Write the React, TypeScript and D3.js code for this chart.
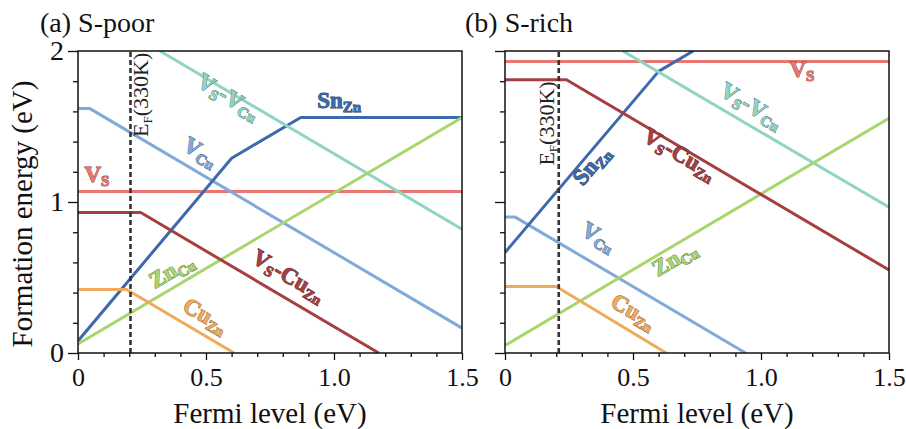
import React, { useEffect, useRef } from "react";
import * as d3 from "d3";

// axis ticks
const xTicks = [0, 0.5, 1.0, 1.5];
const xTickLabels = ["0", "0.5", "1.0", "1.5"];
const xMinor = [0.1, 0.2, 0.3, 0.4, 0.6, 0.7, 0.8, 0.9, 1.1, 1.2, 1.3, 1.4];
const yTicks = [0, 1, 2];
const yTickLabels = ["0", "1", "2"];
const yMinor = [0.2, 0.4, 0.6, 0.8, 1.2, 1.4, 1.6, 1.8];

const panelTitles = ["(a) S-poor", "(b) S-rich"];
const fermiLevels = [0.205, 0.21];

// defect names: V_S, V_Cu, Sn_Zn, V_S-V_Cu, Zn_Cu, V_S-Cu_Zn, Cu_Zn
const seriesColors = ["#ec7772", "#80aada", "#3d69ad", "#8fd5c2", "#a8d66c", "#a63f42", "#efab5a"];

// S-poor: [fermi level, formation energy] kink points
const poorVS = [[0, 1.07], [1.5, 1.07]];
const poorVCu = [[0, 1.62], [0.045, 1.62], [1.5, 0.165]];
const poorSnZn = [[0, 0.08], [0.6, 1.29], [0.87, 1.56], [1.5, 1.56]];
const poorVSVCu = [[0.32, 2.0], [1.5, 0.82]];
const poorZnCu = [[0, 0.06], [1.5, 1.56]];
const poorVSCuZn = [[0, 0.93], [0.245, 0.93], [1.175, 0]];
const poorCuZn = [[0, 0.42], [0.19, 0.42], [0.61, 0]];

// S-rich
const richVS = [[0, 1.93], [1.5, 1.93]];
const richVCu = [[0, 0.9], [0.04, 0.9], [0.94, 0]];
const richSnZn = [[0, 0.665], [0.6, 1.865], [0.735, 2.0]];
const richVSVCu = [[0.46, 2.0], [1.5, 0.965]];
const richZnCu = [[0, 0.05], [1.5, 1.555]];
const richVSCuZn = [[0, 1.81], [0.24, 1.81], [1.5, 0.55]];
const richCuZn = [[0, 0.44], [0.2, 0.44], [0.63, 0]];

// label text pieces: [text, subscript?]
const labelParts = [
  [["V", 0], ["S", 1]],
  [["V", 0], ["Cu", 1]],
  [["Sn", 0], ["Zn", 1]],
  [["V", 0], ["S", 1], ["-", 0], ["V", 0], ["Cu", 1]],
  [["Zn", 0], ["Cu", 1]],
  [["V", 0], ["S", 1], ["-Cu", 0], ["Zn", 1]],
  [["Cu", 0], ["Zn", 1]],
];

// label anchor [x, y, slope of text direction] in data units
const poorLabelPos = [[0.074, 1.13, 0], [0.465, 1.29, -1], [1.02, 1.62, 0], [0.574, 1.656, -1], [0.379, 0.503, 1], [0.809, 0.47, -1], [0.484, 0.205, -1]];
const richLabelPos = [[1.16, 1.83, 0], [0.352, 0.728, -1], [0.359, 1.212, 2], [0.949, 1.596, -1], [0.676, 0.583, 1], [0.668, 1.275, -1], [0.488, 0.232, -1]];

export default function App() {
  const ref = useRef<SVGSVGElement>(null);

  useEffect(() => {
    draw();
  }, []);

  const draw = () => {
    const svg = d3.select(ref.current);
    svg.selectAll("*").remove();

    const serif = "'Liberation Serif', 'Times New Roman', serif";
    const top = 51;
    const bottom = 353;
    const plotW = 384;

    const panels = [
      { left: 78, series: [poorVS, poorVCu, poorSnZn, poorVSVCu, poorZnCu, poorVSCuZn, poorCuZn], labels: poorLabelPos, efLabelX: 18, efLabelY: 1.71, yLabels: true, titleX: 40 },
      { left: 505, series: [richVS, richVCu, richSnZn, richVSVCu, richZnCu, richVSCuZn, richCuZn], labels: richLabelPos, efLabelX: -5, efLabelY: 1.52, yLabels: false, titleX: 465 },
    ];

    const yScale = d3.scaleLinear().domain([0, 2]).range([bottom, top]);

    panels.forEach((p, pi) => {
      const xScale = d3.scaleLinear().domain([0, 1.5]).range([p.left, p.left + plotW]);
      const g = svg.append("g");

      const clipId = "clip" + pi;
      g.append("clipPath")
        .attr("id", clipId)
        .append("rect")
        .attr("x", p.left)
        .attr("y", top)
        .attr("width", plotW)
        .attr("height", bottom - top);

      // axes
      g.append("g")
        .attr("transform", `translate(0, ${bottom})`)
        .call(d3.axisBottom(xScale).tickValues(xMinor).tickSize(4).tickFormat(() => ""))
        .call((a) => a.select(".domain").remove());
      g.append("g")
        .attr("transform", `translate(0, ${bottom})`)
        .call(
          d3.axisBottom(xScale)
            .tickValues(xTicks)
            .tickSize(7)
            .tickPadding(8)
            .tickFormat((d, i) => xTickLabels[i])
        )
        .call((a) => a.select(".domain").remove())
        .selectAll("text")
        .attr("font-family", serif)
        .attr("font-size", 26)
        .attr("fill", "#111");

      g.append("g")
        .attr("transform", `translate(${p.left}, 0)`)
        .call(d3.axisLeft(yScale).tickValues(yMinor).tickSize(5).tickFormat(() => ""))
        .call((a) => a.select(".domain").remove());
      g.append("g")
        .attr("transform", `translate(${p.left}, 0)`)
        .call(
          d3.axisLeft(yScale)
            .tickValues(yTicks)
            .tickSize(10)
            .tickPadding(4)
            .tickFormat((d, i) => (p.yLabels ? yTickLabels[i] : ""))
        )
        .call((a) => a.select(".domain").remove())
        .selectAll("text")
        .attr("font-family", serif)
        .attr("font-size", 28)
        .attr("fill", "#111");

      g.selectAll(".tick line").attr("stroke", "#111").attr("stroke-width", 1.3);

      // lines
      const line = d3
        .line<number[]>()
        .x((d) => xScale(d[0]))
        .y((d) => yScale(d[1]));

      const lines = g.append("g").attr("clip-path", `url(#${clipId})`);
      p.series.forEach((s, i) => {
        lines
          .append("path")
          .attr("d", line(s))
          .attr("fill", "none")
          .attr("stroke", seriesColors[i])
          .attr("stroke-width", 3)
          .attr("stroke-linejoin", "round");
      });

      // Fermi level at 330 K
      const ef = fermiLevels[pi];
      g.append("line")
        .attr("x1", xScale(ef))
        .attr("x2", xScale(ef))
        .attr("y1", yScale(0))
        .attr("y2", yScale(2))
        .attr("stroke", "#333")
        .attr("stroke-width", 2.6)
        .attr("stroke-dasharray", "5,3");

      const ex = xScale(ef) + p.efLabelX;
      const ey = yScale(p.efLabelY);
      const efText = g
        .append("text")
        .attr("x", ex)
        .attr("y", ey)
        .attr("transform", `rotate(-90, ${ex}, ${ey})`)
        .attr("text-anchor", "middle")
        .attr("font-family", serif)
        .attr("font-size", 22)
        .attr("fill", "#222");
      efText.append("tspan").text("E");
      efText.append("tspan").attr("font-size", 13).attr("dy", 4).text("F");
      efText.append("tspan").attr("dy", -4).text("(330K)");

      // defect labels
      const kx = xScale(1) - xScale(0);
      const ky = yScale(0) - yScale(1);
      p.labels.forEach((lp, i) => {
        const lx = xScale(lp[0]);
        const ly = yScale(lp[1]);
        const angle = (-Math.atan((lp[2] * ky) / kx) * 180) / Math.PI;
        const col = d3.color(seriesColors[i]);
        const t = g
          .append("text")
          .attr("x", lx)
          .attr("y", ly)
          .attr("dy", "0.3em")
          .attr("transform", `rotate(${angle}, ${lx}, ${ly})`)
          .attr("text-anchor", "middle")
          .attr("font-family", serif)
          .attr("font-weight", "bold")
          .attr("font-size", 23)
          .attr("fill", seriesColors[i])
          .attr("stroke", col ? col.darker(1.6).toString() : "#333")
          .attr("stroke-width", 0.9)
          .attr("paint-order", "stroke");
        let shifted = false;
        labelParts[i].forEach((part) => {
          const ts = t.append("tspan").text(part[0] as string);
          if (part[1]) {
            ts.attr("font-size", 15).attr("dy", shifted ? 0 : 4);
            shifted = true;
          } else {
            ts.attr("dy", shifted ? -4 : 0);
            shifted = false;
          }
        });
      });

      // frame
      g.append("rect")
        .attr("x", p.left)
        .attr("y", top)
        .attr("width", plotW)
        .attr("height", bottom - top)
        .attr("fill", "none")
        .attr("stroke", "#111")
        .attr("stroke-width", 1.5);

      // titles
      g.append("text")
        .attr("x", p.titleX)
        .attr("y", 32)
        .attr("font-family", serif)
        .attr("font-size", 28)
        .attr("fill", "#111")
        .text(panelTitles[pi]);

      g.append("text")
        .attr("x", p.left + plotW / 2)
        .attr("y", 423)
        .attr("text-anchor", "middle")
        .attr("font-family", serif)
        .attr("font-size", 29)
        .attr("fill", "#111")
        .text("Fermi level (eV)");
    });

    svg
      .append("text")
      .attr("transform", "translate(32, 214) rotate(-90)")
      .attr("text-anchor", "middle")
      .attr("font-family", serif)
      .attr("font-size", 29)
      .attr("fill", "#111")
      .text("Formation energy (eV)");
  };

  return (
    <svg
      ref={ref}
      width={906}
      height={429}
      style={{ position: "absolute", left: 0, top: 0, background: "#fff" }}
    />
  );
}
